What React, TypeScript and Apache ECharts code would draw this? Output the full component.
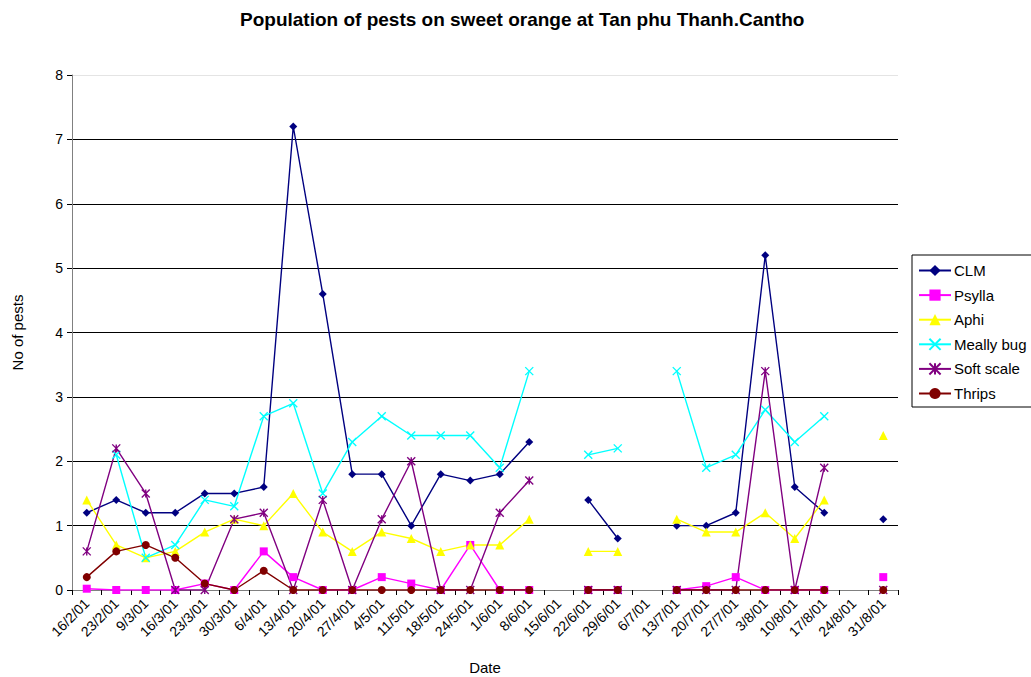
import React, { useEffect, useRef } from "react";
import * as echarts from "echarts";

const dates = [
  "16/2/01", "23/2/01", "9/3/01", "16/3/01", "23/3/01", "30/3/01", "6/4/01",
  "13/4/01", "20/4/01", "27/4/01", "4/5/01", "11/5/01", "18/5/01", "24/5/01",
  "1/6/01", "8/6/01", "15/6/01", "22/6/01", "29/6/01", "6/7/01", "13/7/01",
  "20/7/01", "27/7/01", "3/8/01", "10/8/01", "17/8/01", "24/8/01", "31/8/01",
];

const clm = [1.2, 1.4, 1.2, 1.2, 1.5, 1.5, 1.6, 7.2, 4.6, 1.8, 1.8, 1.0, 1.8, 1.7, 1.8, 2.3, null, 1.4, 0.8, null, 1.0, 1.0, 1.2, 5.2, 1.6, 1.2, null, 1.1];
const psylla = [0.02, 0, 0, 0, 0.1, 0, 0.6, 0.2, 0, 0, 0.2, 0.1, 0, 0.7, 0, 0, null, 0, 0, null, 0, 0.06, 0.2, 0, 0, 0, null, 0.2];
const aphi = [1.4, 0.7, 0.5, 0.6, 0.9, 1.1, 1.0, 1.5, 0.9, 0.6, 0.9, 0.8, 0.6, 0.7, 0.7, 1.1, null, 0.6, 0.6, null, 1.1, 0.9, 0.9, 1.2, 0.8, 1.4, null, 2.4];
const meallyBug = [null, 2.1, 0.5, 0.7, 1.4, 1.3, 2.7, 2.9, 1.5, 2.3, 2.7, 2.4, 2.4, 2.4, 1.9, 3.4, null, 2.1, 2.2, null, 3.4, 1.9, 2.1, 2.8, 2.3, 2.7, null, null];
const softScale = [0.6, 2.2, 1.5, 0, 0, 1.1, 1.2, 0, 1.4, 0, 1.1, 2.0, 0, 0, 1.2, 1.7, null, 0, 0, null, 0, 0, 0, 3.4, 0, 1.9, null, 0];
const thrips = [0.2, 0.6, 0.7, 0.5, 0.1, 0, 0.3, 0, 0, 0, 0, 0, 0, 0, 0, 0, null, 0, 0, null, 0, 0, 0, 0, 0, 0, null, 0];

const yTicks = [0, 1, 2, 3, 4, 5, 6, 7, 8];

const FONT = "'Liberation Sans', Arial, sans-serif";

const X_PATH = "path://M0,0L10,10M10,0L0,10";
const STAR_PATH = "path://M0,0L10,10M10,0L0,10M5,0L5,10";

export default function App() {
  const ref = useRef<HTMLDivElement>(null);

  useEffect(() => {
    if (!ref.current) return;
    const chart = echarts.init(ref.current, undefined, { renderer: "svg" });

    const mk = (
      name: string,
      data: (number | null)[],
      color: string,
      symbol: string,
      size: number,
      stroked = false
    ) => ({
      name,
      type: "line",
      data,
      symbol,
      symbolSize: size,
      showSymbol: true,
      showAllSymbol: true,
      connectNulls: false,
      lineStyle: { color, width: 1.4 },
      itemStyle: stroked
        ? { color: "transparent", borderColor: color, borderWidth: 1.4 }
        : { color, borderWidth: 0 },
      emphasis: { disabled: true },
    });

    chart.setOption({
      animation: false,
      backgroundColor: "#ffffff",
      textStyle: { fontFamily: FONT },
      title: {
        text: "Population of pests on sweet orange at Tan phu Thanh.Cantho",
        left: 235,
        top: 5,
        textStyle: { fontFamily: FONT, fontSize: 19, fontWeight: "bold", color: "#000" },
      },
      legend: {
        orient: "vertical",
        left: 912,
        top: 255,
        padding: [8, 5, 6, 6],
        itemWidth: 32,
        itemHeight: 14,
        itemGap: 9.6,
        borderColor: "#000",
        borderWidth: 1,
        textStyle: { fontFamily: FONT, fontSize: 15, color: "#000", padding: [0, 0, 0, -2] },
        data: ["CLM", "Psylla", "Aphi", "Meally bug", "Soft scale", "Thrips"],
      },
      grid: { left: 72, right: 133, top: 75, bottom: 87, containLabel: false, outerBoundsMode: "none" },
      xAxis: {
        type: "category",
        data: dates,
        boundaryGap: true,
        name: "Date",
        nameLocation: "middle",
        nameGap: 70,
        nameTextStyle: { fontFamily: FONT, fontSize: 15, color: "#000" },
        axisLine: { lineStyle: { color: "#808080", width: 1 } },
        axisTick: { show: true, interval: 0, length: 5, lineStyle: { color: "#000" } },
        axisLabel: {
          interval: 0,
          rotate: 45,
          fontFamily: FONT,
          fontSize: 14,
          color: "#000",
          margin: 11,
        },
        splitLine: { show: false },
      },
      yAxis: {
        type: "value",
        min: yTicks[0],
        max: yTicks[yTicks.length - 1],
        interval: 1,
        name: "No of pests",
        nameLocation: "middle",
        nameGap: 47,
        nameRotate: 90,
        nameTextStyle: { fontFamily: FONT, fontSize: 15, color: "#000" },
        axisLine: { show: true, lineStyle: { color: "#808080", width: 1 } },
        axisTick: { show: true, length: 5, lineStyle: { color: "#000" } },
        axisLabel: { fontFamily: FONT, fontSize: 14, color: "#000", margin: 9 },
        splitLine: {
          show: true,
          lineStyle: {
            color: ["#000", "#000", "#000", "#000", "#000", "#000", "#000", "#000", "#e4e4e4"],
            width: 1,
          },
        },
      },
      series: [
        mk("CLM", clm, "#000080", "diamond", 8),
        mk("Psylla", psylla, "#FF00FF", "rect", 8),
        mk("Aphi", aphi, "#FFFF00", "triangle", 9),
        mk("Meally bug", meallyBug, "#00FFFF", X_PATH, 8, true),
        mk("Soft scale", softScale, "#800080", STAR_PATH, 8, true),
        mk("Thrips", thrips, "#800000", "circle", 8),
      ],
    });

    return () => chart.dispose();
  }, []);

  return (
    <div
      ref={ref}
      style={{ position: "fixed", left: 0, top: 0, width: 1031, height: 677, background: "#fff" }}
    />
  );
}
